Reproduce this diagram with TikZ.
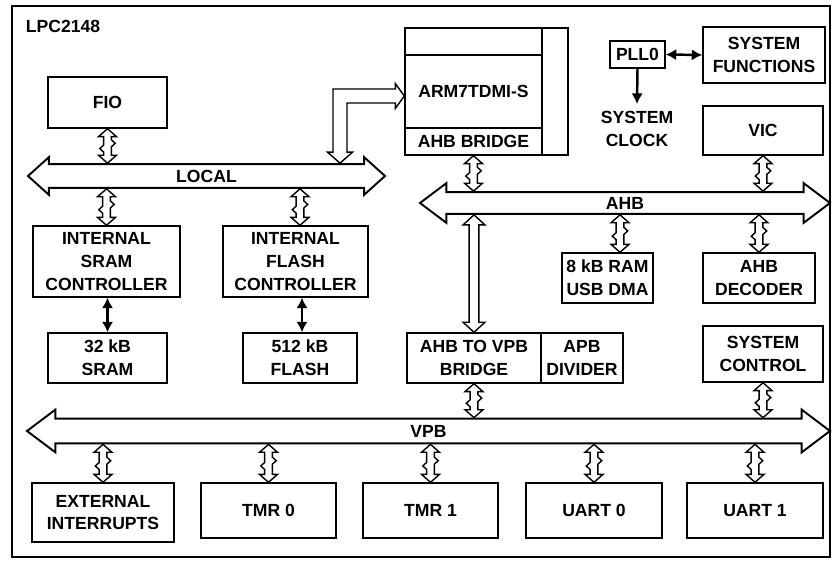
\documentclass[tikz,border=0pt]{standalone}
\usepackage{fontspec}
\setmainfont{Liberation Sans}
\usetikzlibrary{arrows.meta,shapes.arrows,calc}

%% hollow two-headed link between a bus and a block (#1 upper end, #2 lower end)
\newcommand{\bidir}[2]{%
  \draw[link] let \p1=(#1), \p2=(#2), \n1={(\y1+\y2)/2} in
    (\x1,\y1) -- (\x1+5.1pt,\y1-4.5pt) -- (\x1+2.2pt,\y1-4.5pt)
    -- (\x1+2.2pt,\n1+3.5pt) -- (\x1+4.4pt,\n1+1.5pt) -- (\x1+2.2pt,\n1-0.5pt)
    -- (\x1+2.2pt,\y2+4.5pt) -- (\x1+5.1pt,\y2+4.5pt) -- (\x1,\y2)
    -- (\x1-5.1pt,\y2+4.5pt) -- (\x1-2.2pt,\y2+4.5pt)
    -- (\x1-2.2pt,\n1-3.5pt) -- (\x1-4.4pt,\n1-1.5pt) -- (\x1-2.2pt,\n1+0.5pt)
    -- (\x1-2.2pt,\y1-4.5pt) -- (\x1-5.1pt,\y1-4.5pt) -- cycle;}
%% same, straight and slim
\newcommand{\bidirlong}[2]{%
  \draw[link] let \p1=(#1), \p2=(#2) in
    (\x1,\y1) -- (\x1+6.2pt,\y1-5.7pt) -- (\x1+2.8pt,\y1-5.7pt)
    -- (\x1+2.8pt,\y2+5.7pt) -- (\x1+6.2pt,\y2+5.7pt) -- (\x1,\y2)
    -- (\x1-6.2pt,\y2+5.7pt) -- (\x1-2.8pt,\y2+5.7pt)
    -- (\x1-2.8pt,\y1-5.7pt) -- (\x1-6.2pt,\y1-5.7pt) -- cycle;}
%% bent link: #1 on the bus (below), #2 on the target (to the right)
\newcommand{\bentlink}[2]{%
  \draw[link] let \p1=(#1), \p2=(#2) in
    (\x1,\y1) -- (\x1-0.25cm,\y1+0.22cm) -- (\x1-0.14cm,\y1+0.22cm)
    -- (\x1-0.14cm,\y2+0.14cm) -- (\x2-0.18cm,\y2+0.14cm) -- (\x2-0.18cm,\y2+0.25cm)
    -- (\x2,\y2) -- (\x2-0.18cm,\y2-0.25cm) -- (\x2-0.18cm,\y2-0.14cm)
    -- (\x1+0.14cm,\y2-0.14cm) -- (\x1+0.14cm,\y1+0.22cm) -- (\x1+0.25cm,\y1+0.22cm) -- cycle;}

\begin{document}
\begin{tikzpicture}[
  font=\bfseries\fontsize{10}{13}\selectfont,
  every node/.style={inner sep=2pt},
  blk/.style={draw, line width=0.8pt, align=center, inner sep=0pt},
  bus/.style={draw, line width=1.1pt, double arrow, double arrow tip angle=74,
              text height=7.2pt, text depth=0pt},
  link/.style={line width=0.8pt, draw, fill=white},
  sig/.style={{Latex[length=6pt,width=6.5pt]}-{Latex[length=6pt,width=6.5pt]}, line width=1.4pt},
  sigone/.style={-{Latex[length=6pt,width=6.5pt]}, line width=1.4pt},
]
\useasboundingbox (0,0) rectangle (16.66,11.2);

%% ---- outer frame ----
\draw[line width=1.6pt] (0.24,0.06) rectangle (16.6,11.08);
\node[anchor=west] (chip) at (0.44,10.68) {LPC2148};

%% =========================================================
%% local bus side
%% =========================================================
\node[blk, minimum width=2.38cm, minimum height=1.02cm] (fio) at (2.15,9.15) {FIO};

\node[bus, minimum height=7.14cm, inner ysep=2.6pt, double arrow head extend=0.14cm,
      double arrow tip angle=84] (local) at (4.13,7.68) {LOCAL};

\node[blk, minimum width=2.94cm, minimum height=1.42cm] (sramctl) at (2.13,5.97)
  {INTERNAL\\SRAM\\CONTROLLER};
\node[blk, minimum width=2.9cm, minimum height=1.42cm] (flashctl) at (5.91,5.97)
  {INTERNAL\\FLASH\\CONTROLLER};
\node[blk, minimum width=2.38cm, minimum height=1.0cm] (sram) at (2.15,4.04) {32 kB\\SRAM};
\node[blk, minimum width=2.28cm, minimum height=1.0cm] (flash) at (6.0,4.04) {512 kB\\FLASH};

%% =========================================================
%% core, clock, AHB
%% =========================================================
\node[blk, minimum width=2.74cm, minimum height=0.54cm] (cputop) at (9.47,10.37) {};
\node[blk, minimum width=2.74cm, minimum height=1.46cm] (cpu) at (9.47,9.37) {ARM7TDMI-S};
\node[blk, minimum width=2.74cm, minimum height=0.54cm] (ahbbr) at (9.47,8.37) {AHB BRIDGE};
\node[blk, minimum width=0.52cm, minimum height=2.54cm] (cpuside) at (11.1,9.37) {};

\node[blk, minimum width=1.1cm, minimum height=0.54cm] (pll) at (12.75,10.11) {PLL0};
\node[blk, minimum width=2.44cm, minimum height=1.12cm] (sysfn) at (15.28,10.1)
  {SYSTEM\\FUNCTIONS};
\node[align=center, inner sep=4pt] (clk) at (12.74,8.62) {SYSTEM\\CLOCK};
\node[blk, minimum width=2.4cm, minimum height=0.98cm] (vic) at (15.26,8.59) {VIC};

\node[bus, minimum height=8.2cm, inner ysep=2.05pt, double arrow head extend=0.18cm]
  (ahb) at (12.5,7.14) {AHB};

\node[blk, minimum width=1.82cm, minimum height=1.0cm] (ram) at (12.15,5.64) {8 kB RAM\\USB DMA};
\node[blk, minimum width=2.24cm, minimum height=1.0cm] (dec) at (15.18,5.64) {AHB\\DECODER};

\node[blk, minimum width=2.68cm, minimum height=1.0cm] (bridge) at (9.48,4.04) {AHB TO VPB\\BRIDGE};
\node[blk, minimum width=1.64cm, minimum height=1.0cm] (apbdiv) at (11.64,4.04) {APB\\DIVIDER};
\node[blk, minimum width=2.4cm, minimum height=1.12cm] (sysctl) at (15.26,4.12) {SYSTEM\\CONTROL};

%% =========================================================
%% VPB and peripherals
%% =========================================================
\node[bus, minimum height=16.06cm, inner ysep=2.9pt, double arrow head extend=0.18cm]
  (vpb) at (8.57,2.58) {VPB};

\node[blk, minimum width=2.84cm, minimum height=1.18cm] (extint) at (2.06,0.95) {EXTERNAL\\INTERRUPTS};
\node[blk, minimum width=2.7cm, minimum height=1.1cm] (tmr0) at (5.37,0.99) {TMR 0};
\node[blk, minimum width=2.7cm, minimum height=1.1cm] (tmr1) at (8.61,0.99) {TMR 1};
\node[blk, minimum width=2.72cm, minimum height=1.1cm] (uart0) at (11.88,0.99) {UART 0};
\node[blk, minimum width=2.72cm, minimum height=1.1cm] (uart1) at (15.1,0.99) {UART 1};

%% ---- links ----
\bidir{fio.south}{fio.south |- local.north}
\bidir{sramctl.north |- local.south}{sramctl.north}
\coordinate (fltap) at ([xshift=0.09cm]flashctl.north);
\bidir{fltap |- local.south}{fltap}
\coordinate (ltap) at ([xshift=2.67cm]local.north);
\coordinate (cputap) at ([yshift=-0.09cm]cpu.west);
\bentlink{ltap}{cputap}

\draw[sig] (sram.north |- sramctl.south) -- (sram.north);
\coordinate (fltap2) at ([xshift=0.04cm]flash.north);
\draw[sig] (fltap2 |- flashctl.south) -- (fltap2);

\draw[sig] (pll.east) -- (sysfn.west);
\draw[sigone] (pll.south) -- (clk.north);

\bidir{ahbbr.south}{ahbbr.south |- ahb.north}
\bidir{vic.south}{vic.south |- ahb.north}
\coordinate (ramtap) at ([xshift=0.25cm]ram.north);
\bidir{ramtap |- ahb.south}{ramtap}
\bidir{dec.north |- ahb.south}{dec.north}
\bidirlong{bridge.north |- ahb.south}{bridge.north}

\bidir{bridge.south}{bridge.south |- vpb.north}
\bidir{sysctl.south}{sysctl.south |- vpb.north}
\foreach \per in {extint,tmr0,tmr1,uart0,uart1}
  {\bidir{\per.north |- vpb.south}{\per.north}}

\end{tikzpicture}
\end{document}
